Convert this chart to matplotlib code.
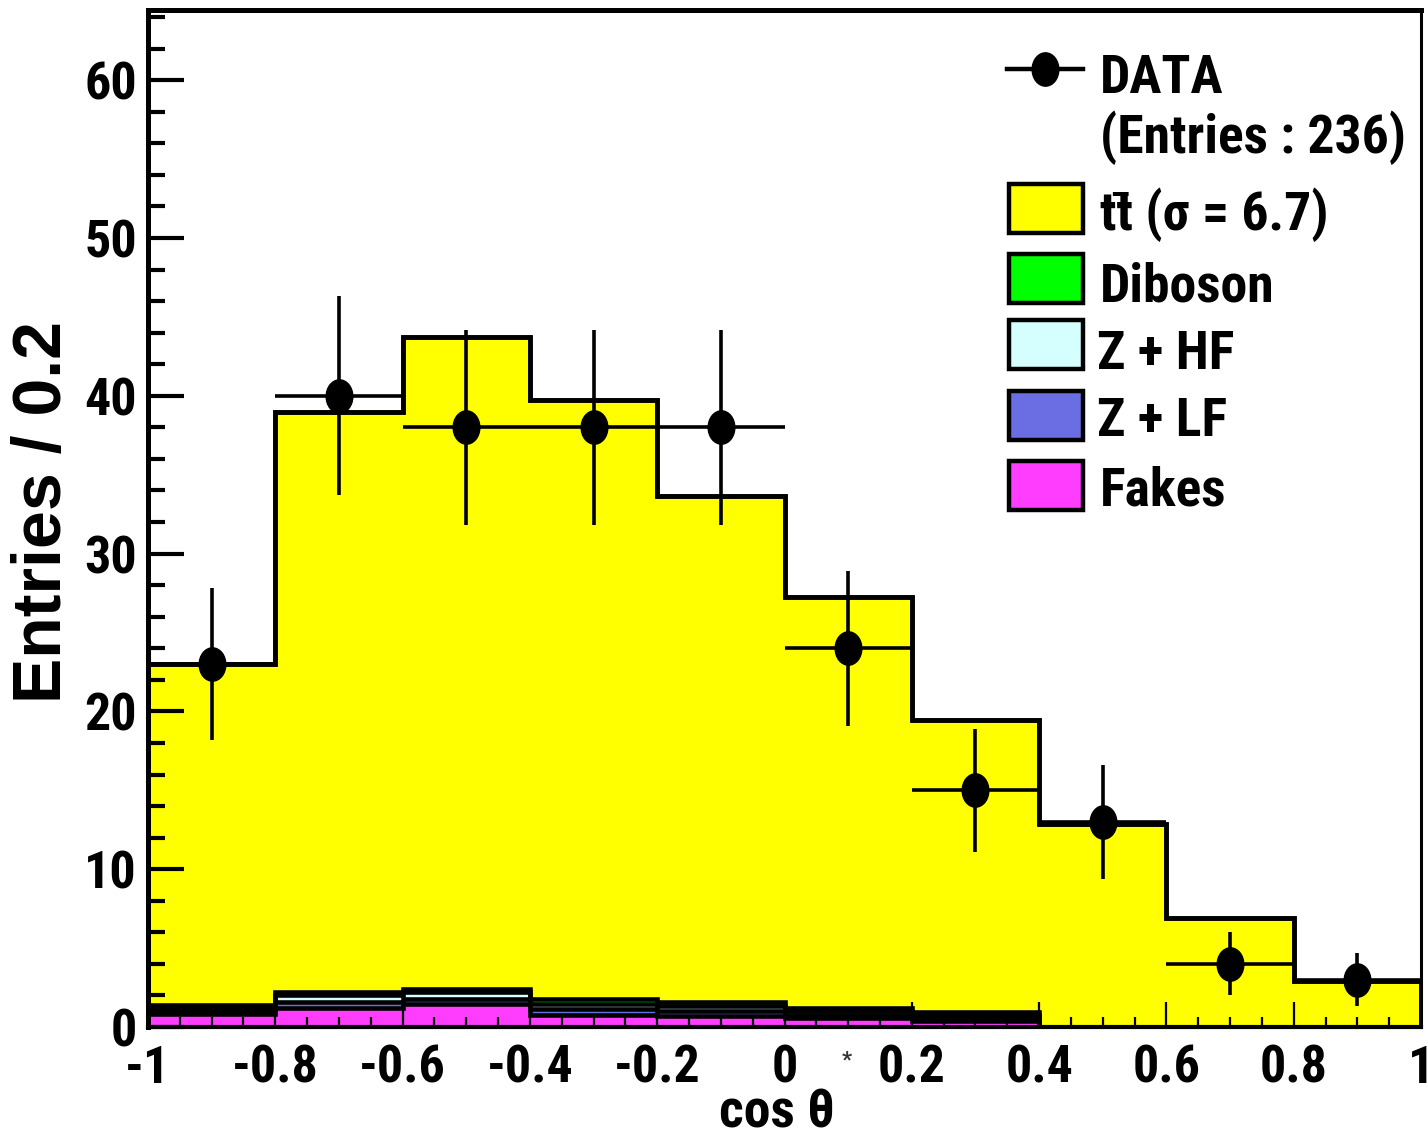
import numpy as np
import matplotlib
matplotlib.use("Agg")
import matplotlib.pyplot as plt
import matplotlib.font_manager as fm
from matplotlib.ft2font import FT2Font
from matplotlib.textpath import TextPath
from matplotlib.patches import Rectangle
from matplotlib.lines import Line2D
from matplotlib.path import Path
from matplotlib.transforms import Affine2D
from matplotlib.ticker import MultipleLocator, FixedLocator, FixedFormatter

# ---------------- data ----------------
bin_edges = [-1.0, -0.8, -0.6, -0.4, -0.2, 0.0, 0.2, 0.4, 0.6, 0.8, 1.0]
data_x = [-0.9, -0.7, -0.5, -0.3, -0.1, 0.1, 0.3, 0.5, 0.7, 0.9]
data_y = [23, 40, 38, 38, 38, 24, 15, 13, 4, 3]
data_yerr = [4.8, 6.3, 6.2, 6.2, 6.2, 4.9, 3.9, 3.6, 2.0, 1.7]
data_xerr = [0.1, 0.1, 0.1, 0.1, 0.1, 0.1, 0.1, 0.1, 0.1, 0.1]

fakes   = [0.82, 1.20, 1.46, 0.78, 0.70, 0.58, 0.39, 0.0, 0.0, 0.0]
z_lf    = [0.20, 0.39, 0.32, 0.33, 0.30, 0.20, 0.18, 0.0, 0.0, 0.0]
z_hf    = [0.20, 0.44, 0.44, 0.34, 0.30, 0.21, 0.18, 0.0, 0.0, 0.0]
diboson = [0.18, 0.19, 0.19, 0.33, 0.30, 0.20, 0.17, 0.0, 0.0, 0.0]
ttbar   = [21.60, 36.78, 41.34, 37.98, 32.07, 26.08, 18.55, 12.87, 6.91, 2.92]

xtick_vals = [-1.0, -0.8, -0.6, -0.4, -0.2, 0.0, 0.2, 0.4, 0.6, 0.8, 1.0]
xtick_labels = ["-1", "-0.8", "-0.6", "-0.4", "-0.2", "0", "0.2", "0.4", "0.6", "0.8", "1"]
ytick_vals = [0, 10, 20, 30, 40, 50, 60]
ytick_labels = ["0", "10", "20", "30", "40", "50", "60"]

legend_labels = ["DATA", "(Entries : 236)", "tt\u0304 (σ = 6.7)", "Diboson", "Z + HF", "Z + LF", "Fakes"]

# ---------------- fonts ----------------
def _wnum(w):
    if isinstance(w, (int, float)):
        return int(w)
    return {"bold": 700, "heavy": 800, "black": 900, "semibold": 600, "demibold": 600,
            "medium": 500, "normal": 400, "regular": 400, "book": 400,
            "light": 300}.get(str(w).lower(), 400)


def find_narrow():
    best = None
    order = ["liberation sans narrow", "roboto condensed", "open sans condensed",
             "noto sans condensed", "dejavu sans condensed", "dejavusanscondensed"]
    for f in fm.fontManager.ttflist:
        key = (f.name + " " + f.fname).lower()
        if "mono" in key or "serif" in key or "cjk" in key or "italic" in key or "oblique" in key:
            continue
        narrow = ("narrow" in key or "condensed" in key or
                  str(f.stretch) in ("condensed", "semi-condensed", "extra-condensed",
                                     "ultra-condensed"))
        if not narrow:
            continue
        score = abs(_wnum(f.weight) - 700)
        if "semi" in key:
            score += 60
        pr = 50
        for i, o in enumerate(order):
            if o in key:
                pr = i * 5
                break
        score += pr
        if best is None or score < best[0]:
            best = (score, f)
    return best[1] if best else None


nf = find_narrow()
if nf is not None:
    hfont = fm.FontProperties(fname=nf.fname)
    hpath = nf.fname
else:
    hfont = fm.FontProperties(family=["Liberation Sans", "DejaVu Sans"], weight="bold")
    hpath = fm.findfont(hfont)
vfont = fm.FontProperties(family=["Liberation Sans", "DejaVu Sans"], weight="bold")

try:
    _ft = FT2Font(hpath)
    has_macron = _ft.get_char_index(0x0304) != 0 and _ft.get_char_index(0x03C3) != 0
except Exception:
    has_macron = False
if not has_macron:
    plt.rcParams["mathtext.fontset"] = "dejavusans"
    legend_labels[2] = r"$\mathbf{t\bar{t}}$ (σ = 6.7)"


def width_px(s, fp, size):
    tp = TextPath((0, 0), s, size=size, prop=fp)
    return tp.get_extents().width * 100 / 72


def height_px(s, fp, size):
    tp = TextPath((0, 0), s, size=size, prop=fp)
    return tp.get_extents().height * 100 / 72


sw = 42 * 300 / max(width_px("(Entries : 236)", hfont, 42), 1)
sh = 42 * 40 / max(height_px("0", hfont, 42), 1)
LEG_FS = min(sw, sh * 1.03)
TICK_FS = LEG_FS * 0.97

plt.rcParams["font.weight"] = "bold"

c_tt = "#FFFF00"
c_dib = "#00FF00"
c_zhf = "#D5FFFF"
c_zlf = "#6B6DE2"
c_fake = "#FF3DFF"

W, H = 1428, 1138
fig = plt.figure(figsize=(W / 100, H / 100), dpi=100)


def fx(x):
    return x / W


def fy(y):
    return 1 - y / H


ax_left, ax_right, ax_top, ax_bottom = 148, 1421, 10, 1027
ax = fig.add_axes([fx(ax_left), fy(ax_bottom), (ax_right - ax_left) / W, (ax_bottom - ax_top) / H])

# ---------------- stacked histogram ----------------
edges = np.array(bin_edges)
c1 = np.array(fakes)
c2 = c1 + np.array(z_lf)
c3 = c2 + np.array(z_hf)
c4 = c3 + np.array(diboson)
c5 = c4 + np.array(ttbar)

hist_lw = 3.3
for cum, col in [(c5, c_tt), (c4, c_dib), (c3, c_zhf), (c2, c_zlf), (c1, c_fake)]:
    ax.stairs(cum, edges, fill=True, facecolor=col, edgecolor="none", zorder=1)
    ax.stairs(cum, edges, fill=False, edgecolor="black", linewidth=hist_lw, zorder=1.2,
              baseline=0)
ax.stairs(c5, edges, fill=False, edgecolor="black", linewidth=hist_lw, zorder=1.2, baseline=0)

# ---------------- data ----------------
ell = Path.unit_circle().transformed(Affine2D().scale(0.8, 1.0))
ax.errorbar(data_x, data_y, yerr=data_yerr, xerr=data_xerr, fmt="none",
            ecolor="black", elinewidth=2.6, capsize=0, zorder=3)
ax.plot(data_x, data_y, linestyle="none", marker=ell, markersize=24,
        color="black", zorder=4)

# ---------------- axes ----------------
ax.set_xlim(-1, 1)
ax.set_ylim(0, (ax_bottom - ax_top) / 15.78)
ax.xaxis.set_major_locator(FixedLocator(xtick_vals))
ax.xaxis.set_major_formatter(FixedFormatter(xtick_labels))
ax.xaxis.set_minor_locator(MultipleLocator(0.05))
ax.yaxis.set_major_locator(FixedLocator(ytick_vals))
ax.yaxis.set_major_formatter(FixedFormatter(ytick_labels))
ax.yaxis.set_minor_locator(MultipleLocator(2))

ax.tick_params(axis="x", which="major", direction="in", length=18, width=1.6,
               pad=12, top=False)
ax.tick_params(axis="x", which="minor", direction="in", length=7, width=1.6, top=False)
ax.tick_params(axis="y", which="major", direction="in", length=26, width=3.0,
               pad=8, right=False)
ax.tick_params(axis="y", which="minor", direction="in", length=12, width=3.0, right=False)
for lab in ax.get_xticklabels() + ax.get_yticklabels():
    lab.set_fontproperties(hfont)
    lab.set_fontsize(TICK_FS)
ax.set_axisbelow(False)

ax.spines["left"].set_linewidth(3.6)
ax.spines["top"].set_linewidth(3.6)
ax.spines["right"].set_linewidth(2.2)
ax.spines["bottom"].set_linewidth(3.0)

# axis titles
fig.text(fx(777), fy(1127), "cos θ", fontproperties=hfont, fontsize=LEG_FS,
         ha="center", va="baseline")
fig.text(fx(75), fy(512), "Entries / 0.2", fontproperties=vfont, fontsize=49,
         rotation=90, ha="right", va="center", rotation_mode="default")

# small stray mark under the axis
fig.text(fx(847), fy(1066), "*", fontproperties=hfont, fontsize=16, ha="center",
         va="baseline", color="#333333")

# ---------------- legend (manual) ----------------
fig.add_artist(Line2D([fx(1007), fx(1083)], [fy(69), fy(69)], color="black",
                      linewidth=3.2, transform=fig.transFigure))
fig.add_artist(Line2D([fx(1045)], [fy(69)], marker=ell, markersize=24, color="black",
                      linestyle="none", transform=fig.transFigure))

box_tops = [182, 252, 318, 389, 459]
box_cols = [c_tt, c_dib, c_zhf, c_zlf, c_fake]
for top, col in zip(box_tops, box_cols):
    fig.add_artist(Rectangle((fx(1009), fy(top + 51)), 74 / W, 49 / H,
                             facecolor=col, edgecolor="black", linewidth=3.2,
                             transform=fig.transFigure))

text_baselines = [93, 153, 230, 302, 369, 436, 506]
text_x = [1100, 1100, 1100, 1100, 1097, 1097, 1100]
for lab, yb, xx in zip(legend_labels, text_baselines, text_x):
    fig.text(fx(xx), fy(yb), lab, fontproperties=hfont, fontsize=LEG_FS, ha="left",
             va="baseline")

fig.savefig("out.png", dpi=100)
